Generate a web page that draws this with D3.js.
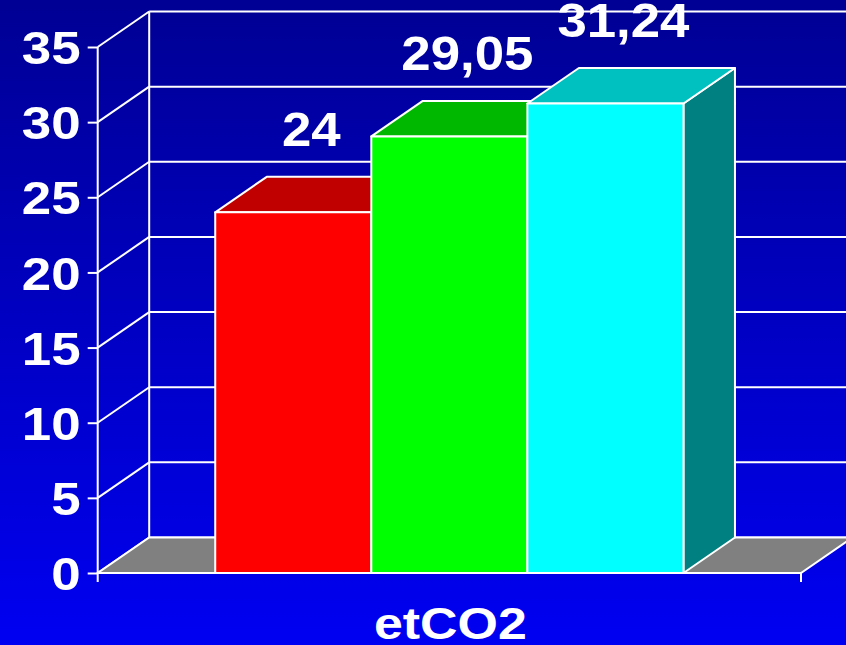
<!DOCTYPE html>
<html>
<head>
<meta charset="utf-8">
<script src="https://cdn.jsdelivr.net/npm/d3@7"></script>
<style>
  html, body { margin: 0; padding: 0; overflow: hidden; }
  svg { display: block; font-family: "Liberation Sans", Arial, sans-serif; font-weight: bold; }
</style>
</head>
<body>
<div id="chart"></div>
<script>
// data
const categories = ["etCO2"];
const series = ["a", "b", "c"];
const values = [24, 29.05, 31.24];
const valueLabels = ["24", "29,05", "31,24"];
const yTicks = [0, 5, 10, 15, 20, 25, 30, 35];

const frontColors = ["#FF0000", "#00FF00", "#00FFFF"];
const topColors = ["#C00000", "#00B800", "#00C0C0"];
const sideColors = ["#800000", "#008000", "#008080"];

drawChart();

function drawChart() {
	const width = 846;
	const height = 645;
	// depth offset of the 3d box
	const dx = 51.5;
	const dy = -35.5;

	const svg = d3.select("#chart").append("svg")
		.attr("width", width)
		.attr("height", height)
		.attr("viewBox", [0, 0, width, height]);

	const defs = svg.append("defs");
	const grad = defs.append("linearGradient")
		.attr("id", "bg")
		.attr("x1", 0).attr("y1", 0).attr("x2", 0).attr("y2", 1);
	grad.append("stop").attr("offset", "0%").attr("stop-color", "#000094");
	grad.append("stop").attr("offset", "100%").attr("stop-color", "#0000F2");

	svg.append("rect")
		.attr("width", width)
		.attr("height", height)
		.attr("fill", "url(#bg)");

	const y = d3.scaleLinear().domain([0, 35]).range([573, 47]);
	const x = d3.scaleBand().domain(categories).range([97.7, 801]).paddingOuter(0.251).paddingInner(0);
	const xs = d3.scaleBand().domain(series).range([0, x.bandwidth()]);

	const x0 = x.range()[0];
	const x1 = x.range()[1];
	const wallX = x0 + dx;

	// back wall grid lines
	const grid = svg.append("g")
		.attr("stroke", "white")
		.attr("stroke-width", 2)
		.attr("fill", "none");

	grid.selectAll(".hline")
		.data(yTicks)
		.join("line")
		.attr("x1", wallX)
		.attr("x2", width + 10)
		.attr("y1", d => y(d) + dy)
		.attr("y2", d => y(d) + dy);

	grid.selectAll(".dline")
		.data(yTicks)
		.join("line")
		.attr("x1", x0)
		.attr("x2", wallX)
		.attr("y1", d => y(d))
		.attr("y2", d => y(d) + dy);

	grid.append("line")
		.attr("x1", wallX).attr("x2", wallX)
		.attr("y1", y(35) + dy).attr("y2", y(0) + dy);

	// floor
	svg.append("polygon")
		.attr("points", [[x0, y(0)], [x1, y(0)], [x1 + dx, y(0) + dy], [wallX, y(0) + dy]].join(" "))
		.attr("fill", "#808080")
		.attr("stroke", "white")
		.attr("stroke-width", 2);

	// bars, left to right so the next front face hides the side
	const bars = svg.append("g")
		.attr("stroke", "white")
		.attr("stroke-width", 2)
		.attr("stroke-linejoin", "round");

	series.forEach((s, i) => {
		const bx0 = x(categories[0]) + xs(s);
		const bx1 = bx0 + xs.bandwidth();
		const top = y(values[i]);
		const base = y(0);
		const g = bars.append("g");
		g.append("polygon")
			.attr("points", [[bx1, base], [bx1 + dx, base + dy], [bx1 + dx, top + dy], [bx1, top]].join(" "))
			.attr("fill", sideColors[i]);
		g.append("polygon")
			.attr("points", [[bx0, top], [bx1, top], [bx1 + dx, top + dy], [bx0 + dx, top + dy]].join(" "))
			.attr("fill", topColors[i]);
		g.append("rect")
			.attr("x", bx0)
			.attr("y", top)
			.attr("width", bx1 - bx0)
			.attr("height", base - top)
			.attr("fill", frontColors[i]);
	});

	// value labels
	svg.append("g")
		.selectAll("text")
		.data(values)
		.join("text")
		.attr("transform", (d, i) => {
			const cx = x(categories[0]) + xs(series[i]) + xs.bandwidth() / 2 + 18;
			return `translate(${cx},${y(d) + dy - 31}) scale(1.1,1)`;
		})
		.attr("text-anchor", "middle")
		.attr("fill", "white")
		.attr("font-size", 48)
		.text((d, i) => valueLabels[i]);

	// y axis
	const yAxis = d3.axisLeft(y)
		.tickValues(yTicks)
		.tickSize(10)
		.tickSizeOuter(0)
		.tickPadding(7);

	svg.append("g")
		.attr("transform", `translate(${x0},0)`)
		.call(yAxis)
		.call(g => g.select(".domain").remove())
		.call(g => g.selectAll(".tick line").attr("stroke", "white").attr("stroke-width", 2))
		.call(g => g.selectAll(".tick text")
			.attr("fill", "white")
			.attr("font-size", 46)
			.attr("font-family", "Liberation Sans, Arial, sans-serif")
			.attr("font-weight", "bold")
			.attr("dy", "0.36em")
			.attr("transform", "scale(1.15,1)")
			.attr("x", -17 / 1.15));

	// front axis lines
	const axis = svg.append("g")
		.attr("stroke", "white")
		.attr("stroke-width", 2);
	axis.append("line")
		.attr("x1", x0).attr("x2", x0)
		.attr("y1", y(35)).attr("y2", y(0) + 9);
	axis.append("line")
		.attr("x1", x0).attr("x2", x1)
		.attr("y1", y(0)).attr("y2", y(0));
	axis.append("line")
		.attr("x1", x1).attr("x2", x1)
		.attr("y1", y(0)).attr("y2", y(0) + 9);

	// category label
	svg.append("g")
		.selectAll("text")
		.data(categories)
		.join("text")
		.attr("transform", d => `translate(${x(d) + x.bandwidth() / 2 + 1},639) scale(1.18,1)`)
		.attr("text-anchor", "middle")
		.attr("fill", "white")
		.attr("font-size", 44)
		.text(d => d);
}
</script>
</body>
</html>
